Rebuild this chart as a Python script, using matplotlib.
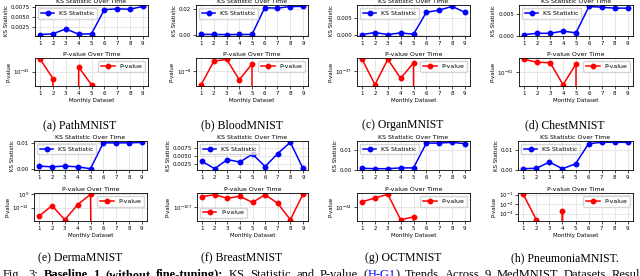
import matplotlib
matplotlib.use("Agg")
import matplotlib.pyplot as plt
from matplotlib.ticker import NullLocator

months = [1, 2, 3, 4, 5, 6, 7, 8, 9]
names = ["PathMNIST", "BloodMNIST", "OrganMNIST", "ChestMNIST",
         "DermaMNIST", "BreastMNIST", "OCTMNIST", "PneumoniaMNIST."]
letters = ["a", "b", "c", "d", "e", "f", "g", "h"]

# KS statistic per monthly dataset
ks_path = [0.0007, 0.0009, 0.0021, 0.0008, 0.0009, 0.0069, 0.0071, 0.0070, 0.0077]
ks_blood = [0.0004, 0.0003, 0.0002, 0.0003, 0.0003, 0.0206, 0.0203, 0.0215, 0.0216]
ks_organ = [0.0002, 0.0008, 0.0002, 0.0007, 0.0003, 0.0067, 0.0073, 0.0084, 0.0067]
ks_chest = [0.0003, 0.0006, 0.0006, 0.0011, 0.0007, 0.0068, 0.0066, 0.0064, 0.0064]
ks_derma = [0.0011, 0.0008, 0.0011, 0.0008, 0.0001, 0.0100, 0.0100, 0.0100, 0.0102]
ks_breast = [0.0032, 0.0008, 0.0038, 0.0030, 0.0056, 0.0015, 0.0058, 0.0095, 0.0009]
ks_oct = [0.0007, 0.0005, 0.0005, 0.0009, 0.0009, 0.0136, 0.0136, 0.0140, 0.0133]
ks_pneu = [0.0005, 0.0007, 0.0038, 0.0005, 0.0029, 0.0131, 0.0138, 0.0138, 0.0138]

# p-values (0 = underflow)
p_path = [5.2e-41, 3.9e-42, 0, 1.8e-41, 1.7e-42, 0, 0, 0, 0]
p_blood = [1.4e-9, 4.0e-8, 5.4e-8, 2.9e-9, 2.7e-8, 0, 0, 0, 0]
p_organ = [4.8e-37, 1.5e-38, 4.8e-37, 3.6e-38, 2.9e-37, 0, 0, 0, 0]
p_chest = [5.5e-61, 3.6e-61, 3.5e-61, 1.7e-62, 2.9e-61, 0, 0, 0, 0]
p_derma = [3.2e-20, 6.3e-11, 1.6e-23, 5.0e-10, 1.0, 0, 0, 0, 0]
p_breast = [4.0e-107, 5.2e-107, 3.2e-107, 4.2e-107, 1.8e-107, 5.2e-107,
            1.6e-107, 1.7e-108, 5.5e-107]
p_oct = [2.0e-34, 3.3e-34, 5.5e-34, 1.7e-35, 2.5e-35, 0, 0, 0, 0]
p_pneu = [0.11, 2.2e-4, 0, 2.0e-3, 0, 0, 0, 0, 0]

ks_all = [ks_path, ks_blood, ks_organ, ks_chest, ks_derma, ks_breast, ks_oct, ks_pneu]
p_all = [p_path, p_blood, p_organ, p_chest, p_derma, p_breast, p_oct, p_pneu]

ks_ticks = [[0.0025, 0.005, 0.0075], [0.0, 0.02], [0.0, 0.005], [0.0, 0.005],
            [0.0, 0.01], [0.0025, 0.005, 0.0075], [0.0, 0.01], [0.0, 0.01]]
p_ticks = [[-41], [-8], [-37], [-61], [0, -12], [-107], [-34], [-1, -2, -3]]
p_legend_loc = ["upper right"] * 5 + ["lower left"] + ["upper right"] * 2

W, H = 640, 276
fig = plt.figure(figsize=(6.4, 2.76), dpi=100)

# axes x extents (px) for each panel, and y extents for each row
cols = [[(35, 148), (196, 308), (357, 470), (519, 633)],
        [(34, 147), (197, 308), (357, 470), (518, 633)]]
rows = [((5, 36), (58, 86)), ((141, 170), (193, 221))]
cap_x = [80, 242, 403, 565]
cap_y = [125, 258]


def rect(x0, x1, y0, y1):
    return [x0 / W, 1 - y1 / H, (x1 - x0) / W, (y1 - y0) / H]


def style(ax):
    ax.grid(True, color="#dddddd", linewidth=0.5)
    ax.set_axisbelow(True)
    for s in ax.spines.values():
        s.set_linewidth(0.6)
    ax.tick_params(labelsize=4, length=2, width=0.5, pad=1.5)
    ax.set_xticks(months)


for i in range(8):
    r, c = divmod(i, 4)
    x0, x1 = cols[r][c]
    (ky0, ky1), (py0, py1) = rows[r]

    ax = fig.add_axes(rect(x0, x1, ky0, ky1))
    ax.plot(months, ks_all[i], "-o", color="blue", lw=1.1, ms=3.2, label="KS Statistic")
    ax.set_yticks(ks_ticks[i])
    style(ax)
    ax.set_title("KS Statistic Over Time", fontsize=4.5, pad=1.5)
    ax.set_ylabel("KS Statistic", fontsize=4, labelpad=1.5)
    ax.legend(loc="upper left", fontsize=4.5, handlelength=2.2, borderpad=0.4,
              framealpha=0.8, edgecolor="#cccccc")

    ax = fig.add_axes(rect(x0, x1, py0, py1))
    ax.plot(months, p_all[i], "-o", color="red", lw=1.1, ms=3.2, label="P-value")
    ax.set_yscale("log", nonpositive="clip")
    ax.set_yticks([10.0 ** e for e in p_ticks[i]])
    ax.yaxis.set_minor_locator(NullLocator())
    style(ax)
    ax.set_title("P-value Over Time", fontsize=4.5, pad=1.5)
    ax.set_ylabel("P-value", fontsize=4, labelpad=1.5)
    ax.set_xlabel("Monthly Dataset", fontsize=4, labelpad=1.5)
    ax.legend(loc=p_legend_loc[i], fontsize=4.5, handlelength=2.2, borderpad=0.4,
              framealpha=0.8, edgecolor="#cccccc")

    fig.text(cap_x[c] / W, 1 - cap_y[r] / H, "(%s) %s" % (letters[i], names[i]),
             family="Liberation Serif", fontsize=8.5, ha="center", va="center")

# figure caption, cut at the bottom edge as in the source page
pieces = [("Fig.", "normal", "black"), ("3:", "normal", "black"),
          ("Baseline", "bold", "black"), ("1", "bold", "black"),
          ("(without", "bold", "black"), ("fine-tuning):", "bold", "black"),
          ("KS", "normal", "black"), ("Statistic", "normal", "black"),
          ("and", "normal", "black"), ("P-value", "normal", "black"),
          ("(", "normal", "black"), ("H-G1", "normal", "blue"),
          (")", "normal", "black"), ("Trends", "normal", "black"),
          ("Across", "normal", "black"), ("9", "normal", "black"),
          ("MedMNIST", "normal", "black"), ("Datasets", "normal", "black"),
          ("Results", "normal", "black")]
fig.canvas.draw()
rend = fig.canvas.get_renderer()
x = 3.0
gap = 5.5
for k, (word, weight, col) in enumerate(pieces):
    t = fig.text(x / W, 1 - 278 / H, word, family="Liberation Serif", fontsize=9,
                 fontweight=weight, color=col, ha="left", va="baseline")
    w = t.get_window_extent(rend).width
    nxt = pieces[k + 1][0] if k + 1 < len(pieces) else ""
    if word in ("(", "H-G1"):
        x += w
    else:
        x += w + gap

fig.savefig("out.png", dpi=100)
